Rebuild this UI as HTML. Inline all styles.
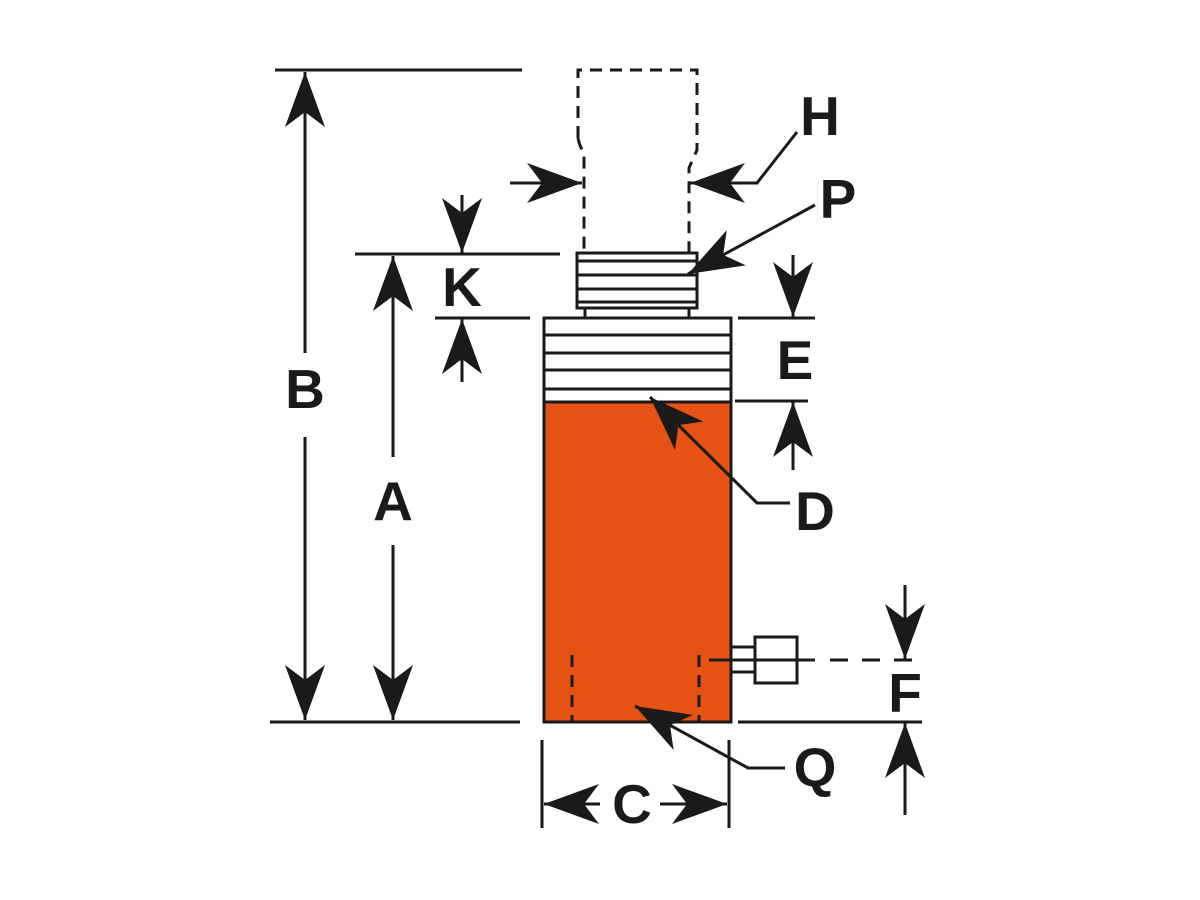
<!DOCTYPE html>
<html><head><meta charset="utf-8"><style>
html,body{margin:0;padding:0;background:#fff;}
svg{display:block}
text{font-family:"Liberation Sans",sans-serif;font-weight:bold;font-size:55px;fill:#1a1a1a;text-anchor:middle}
</style></head><body>
<svg width="1200" height="900" viewBox="0 0 1200 900" xmlns="http://www.w3.org/2000/svg">
<defs>
<marker id="ah" markerUnits="userSpaceOnUse" markerWidth="60" markerHeight="50" viewBox="-56 -22 60 44" refX="0" refY="0" orient="auto-start-reverse">
<path d="M0,0 L-55,-20 L-40,0 L-55,20 Z" fill="#1a1a1a"/>
</marker>
</defs>
<g stroke="#1a1a1a" stroke-width="3" fill="none">
<!-- extension lines -->
<line x1="275" y1="70" x2="522" y2="70"/>
<line x1="270" y1="722" x2="520" y2="722"/>
<line x1="355" y1="254" x2="560" y2="254"/>
<line x1="435" y1="318" x2="530" y2="318"/>
<line x1="738" y1="318" x2="815" y2="318"/>
<line x1="735" y1="401" x2="808" y2="401"/>
<line x1="738" y1="722" x2="922" y2="722"/>
<line x1="542" y1="740" x2="542" y2="828"/>
<line x1="729" y1="740" x2="729" y2="828"/>
<!-- B -->
<line x1="305" y1="353" x2="305" y2="72" marker-end="url(#ah)"/>
<line x1="305" y1="437" x2="305" y2="720" marker-end="url(#ah)"/>
<!-- A -->
<line x1="393" y1="457" x2="393" y2="256" marker-end="url(#ah)"/>
<line x1="393" y1="545" x2="393" y2="720" marker-end="url(#ah)"/>
<!-- K -->
<line x1="462" y1="195" x2="462" y2="253" marker-end="url(#ah)"/>
<line x1="462" y1="382" x2="462" y2="319" marker-end="url(#ah)"/>
<!-- E -->
<line x1="793" y1="255" x2="793" y2="317" marker-end="url(#ah)"/>
<line x1="793" y1="470" x2="793" y2="402" marker-end="url(#ah)"/>
<!-- F -->
<line x1="905" y1="585" x2="905" y2="659" marker-end="url(#ah)"/>
<line x1="905" y1="815" x2="905" y2="723" marker-end="url(#ah)"/>
<!-- C -->
<line x1="600" y1="804" x2="544" y2="804" marker-end="url(#ah)"/>
<line x1="660" y1="804" x2="727" y2="804" marker-end="url(#ah)"/>
<!-- H -->
<line x1="510" y1="183" x2="582" y2="183" marker-end="url(#ah)"/>
<polyline points="797,132 757,183 690,183" marker-end="url(#ah)"/>
<!-- P -->
<line x1="815" y1="205" x2="688" y2="274" marker-end="url(#ah)"/>
<!-- rod dashed -->
<path d="M578,138 L578,70 L697,70 L697,150 L689,168 L689,254 M578,138 Q580,148 584,152 L584,254" stroke-dasharray="12,8"/>
<!-- cylinder -->
<rect x="544" y="402" width="187" height="320" fill="#e65214" stroke="none"/>
<rect x="544" y="318" width="187" height="404"/>
<line x1="544" y1="335" x2="731" y2="335"/>
<line x1="544" y1="353" x2="731" y2="353"/>
<line x1="544" y1="370" x2="731" y2="370"/>
<line x1="544" y1="389" x2="731" y2="389"/>
<line x1="544" y1="402" x2="731" y2="402"/>
<!-- cap -->
<rect x="577" y="253" width="120" height="55"/>
<line x1="577" y1="261" x2="697" y2="261"/>
<line x1="577" y1="275" x2="697" y2="275"/>
<line x1="577" y1="289" x2="697" y2="289"/>
<line x1="577" y1="302" x2="697" y2="302"/>
<line x1="585" y1="308" x2="585" y2="318"/>
<line x1="689" y1="308" x2="689" y2="318"/>
<!-- internal dashed -->
<line x1="572" y1="655" x2="572" y2="722" stroke-dasharray="12,8"/>
<line x1="699" y1="655" x2="699" y2="722" stroke-dasharray="12,8"/>
<!-- port -->
<line x1="731" y1="647" x2="755" y2="647"/>
<line x1="731" y1="672" x2="755" y2="672"/>
<rect x="755" y="637" width="42" height="46" fill="#fff"/>
<line x1="709" y1="660" x2="815" y2="660"/>
<line x1="830" y1="660" x2="925" y2="660" stroke-dasharray="18,14"/>
<!-- D -->
<polyline points="790,503 757,503 650,397" marker-end="url(#ah)"/>
<!-- Q -->
<polyline points="785,768 748,768 635,706" marker-end="url(#ah)"/>
</g>
<text x="305" y="408">B</text>
<text x="393" y="520">A</text>
<text x="462" y="306">K</text>
<text x="820" y="135">H</text>
<text x="838" y="218">P</text>
<text x="795" y="379">E</text>
<text x="815" y="530">D</text>
<text x="905" y="712">F</text>
<text x="815" y="786">Q</text>
<text x="632" y="823">C</text>
</svg>
</body></html>
